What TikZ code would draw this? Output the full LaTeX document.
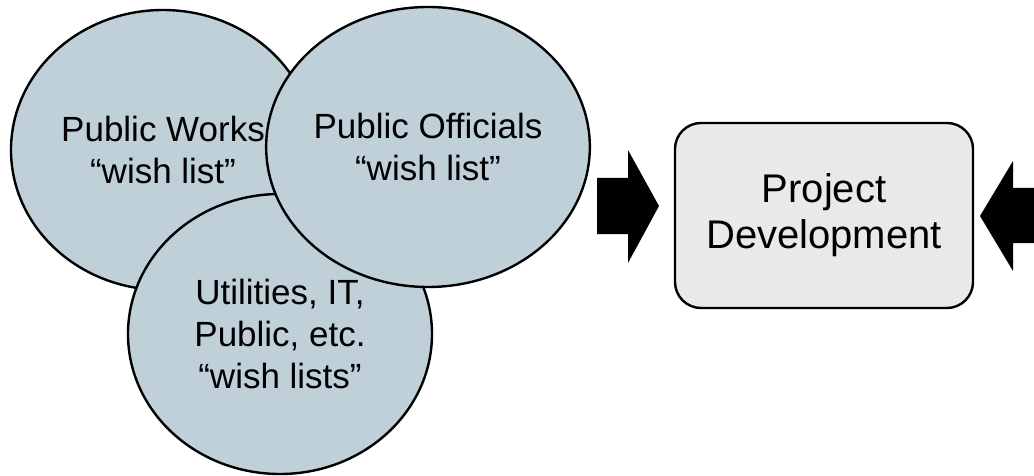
\documentclass[tikz,border=0pt]{standalone}
\usepackage{fontspec}
\setmainfont{Liberation Sans}
\usetikzlibrary{shapes.geometric}
\definecolor{circfill}{RGB}{192,208,217}
\definecolor{boxfill}{RGB}{233,233,233}
\begin{document}
\begin{tikzpicture}[x=1pt,y=-1pt,
  wish/.style={ellipse,draw=black,line width=2.4pt,fill=circfill,
    minimum width=304pt,minimum height=280pt,inner sep=0pt,
    align=center,font=\fontsize{35}{42}\selectfont},
  pdbox/.style={draw=black,line width=2.4pt,fill=boxfill,rounded corners=26pt,
    minimum width=298pt,minimum height=185pt,inner sep=0pt,
    align=center,font=\fontsize{40}{46}\selectfont},
  blockarrow/.style={fill=black}]
\useasboundingbox (0,0) rectangle (1034,476);
\node[wish] (pw) at (163,150) {Public Works\\``wish list''};
\node[wish] (ut) at (280,334) {Utilities, IT,\\Public, etc.\\``wish lists''};
\node[wish] (po) at (428,147) {Public Officials\\``wish list''};
\node[pdbox] (pd) at (824,215.5) {Project\\Development};
% left block arrow
\fill[blockarrow] (597,178) -- (628,178) -- (628,150) -- (659,206) -- (628,263) -- (628,234) -- (597,234) -- cycle;
% right block arrow
\fill[blockarrow] (1040,188) -- (1013,188) -- (1013,161) -- (980,216) -- (1013,271) -- (1013,243) -- (1040,243) -- cycle;
\end{tikzpicture}
\end{document}
